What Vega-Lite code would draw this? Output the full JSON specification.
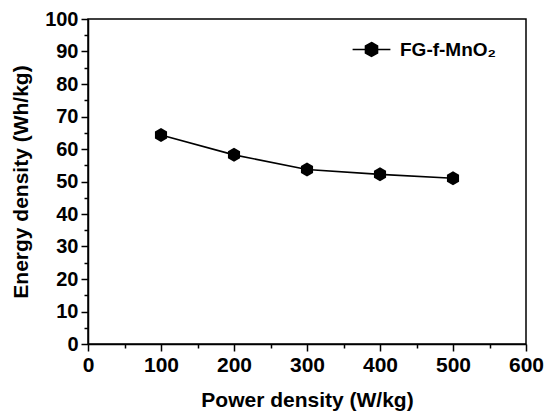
{
  "$schema": "https://vega.github.io/schema/vega-lite/v6.json",
  "width": 438,
  "height": 325,
  "autosize": "none",
  "padding": {"left": 88, "top": 19, "right": 20, "bottom": 72},
  "background": "white",
  "data": {"values": [
    {"power": 100, "energy": 64.3, "series": "FG-f-MnO₂"},
    {"power": 200, "energy": 58.2, "series": "FG-f-MnO₂"},
    {"power": 300, "energy": 53.7, "series": "FG-f-MnO₂"},
    {"power": 400, "energy": 52.2, "series": "FG-f-MnO₂"},
    {"power": 500, "energy": 51.0, "series": "FG-f-MnO₂"}
  ]},
  "encoding": {
    "x": {
      "field": "power", "type": "quantitative",
      "scale": {"domain": [0, 600], "nice": false, "zero": false},
      "axis": {
        "title": "Power density (W/kg)",
        "values": [0, 50, 100, 150, 200, 250, 300, 350, 400, 450, 500, 550, 600],
        "labelExpr": "datum.value % 100 === 0 ? datum.label : ''",
        "tickSize": {"condition": {"test": "datum.value % 100 === 0", "value": 7}, "value": 4},
        "labelPadding": 3,
        "labelFontSize": 21,
        "titlePadding": 14
      }
    },
    "y": {
      "field": "energy", "type": "quantitative",
      "scale": {"domain": [0, 100], "nice": false, "zero": false},
      "axis": {
        "title": "Energy density (Wh/kg)",
        "values": [0, 5, 10, 15, 20, 25, 30, 35, 40, 45, 50, 55, 60, 65, 70, 75, 80, 85, 90, 95, 100],
        "labelExpr": "datum.value % 10 === 0 ? datum.label : ''",
        "tickSize": {"condition": {"test": "datum.value % 10 === 0", "value": 7}, "value": 4},
        "labelPadding": 3,
        "labelFontSize": 20,
        "titlePadding": 13
      }
    }
  },
  "layer": [
    {
      "mark": {"type": "line", "color": "black", "strokeWidth": 1.6}
    },
    {
      "mark": {"type": "point", "filled": true, "opacity": 1, "size": 196,
               "shape": "M0,-1L0.866,-0.5L0.866,0.5L0,1L-0.866,0.5L-0.866,-0.5Z"},
      "encoding": {
        "color": {
          "field": "series", "type": "nominal",
          "scale": {"range": ["black"]},
          "legend": {
            "title": null,
            "orient": "none",
            "legendX": 262,
            "legendY": 21,
            "symbolType": "M-2.7,0H2.7M0,-1L0.866,-0.5L0.866,0.5L0,1L-0.866,0.5L-0.866,-0.5Z",
            "symbolSize": 196,
            "symbolFillColor": "black",
            "symbolStrokeColor": "black",
            "symbolStrokeWidth": 1.5,
            "symbolOpacity": 1,
            "symbolOffset": 12,
            "labelOffset": 19,
            "labelFont": "Liberation Sans",
            "labelFontWeight": "bold",
            "labelFontSize": 19,
            "labelColor": "black"
          }
        }
      }
    }
  ],
  "config": {
    "view": {"stroke": "black", "strokeWidth": 1.5},
    "axis": {
      "grid": false,
      "domainColor": "black",
      "domainWidth": 1.5,
      "tickColor": "black",
      "tickWidth": 1.5,
      "labelFont": "Liberation Sans",
      "labelFontWeight": "bold",
      "labelColor": "black",
      "titleFont": "Liberation Sans",
      "titleFontWeight": "bold",
      "titleFontSize": 21,
      "titleColor": "black",
      "labelFlush": false,
      "labelOverlap": false
    }
  }
}
